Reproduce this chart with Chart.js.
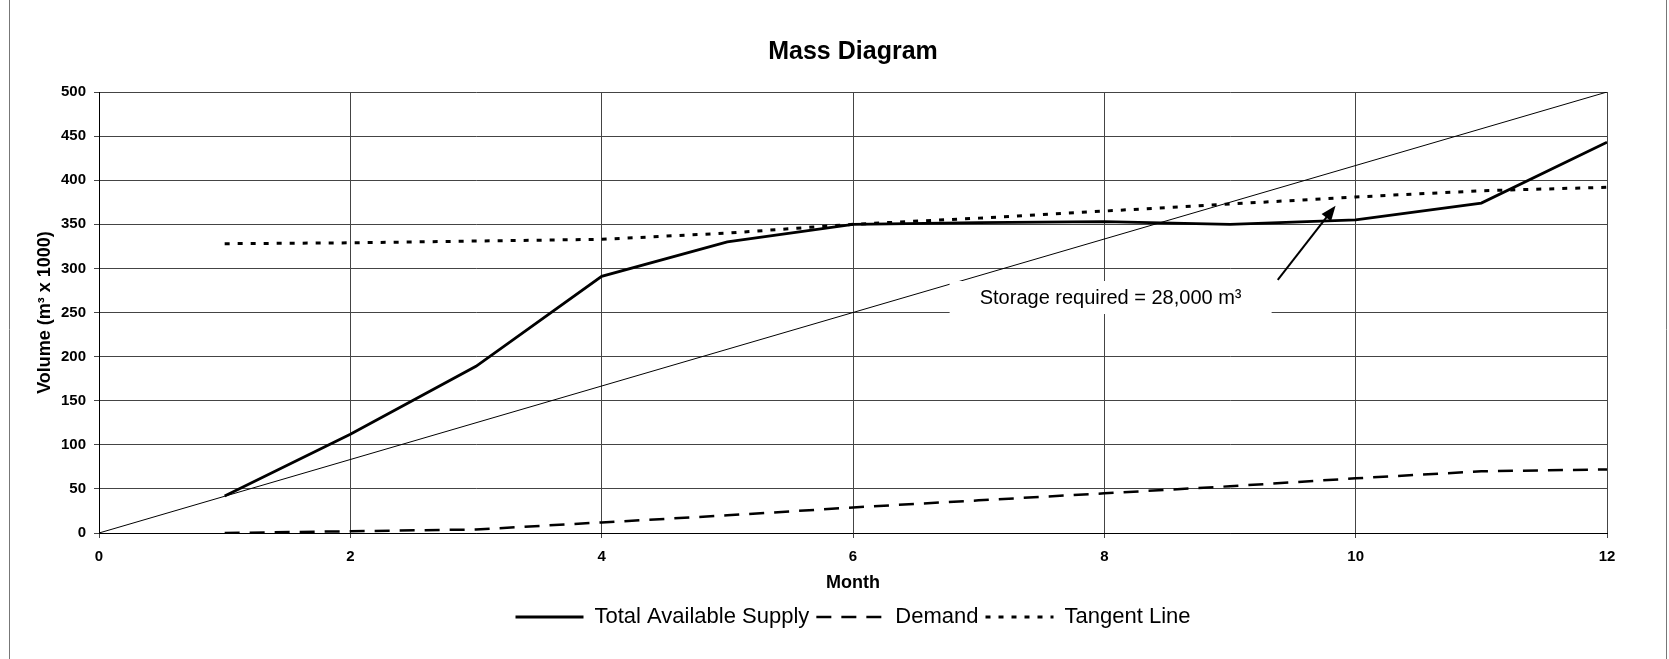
<!DOCTYPE html>
<html>
<head>
<meta charset="utf-8">
<title>Mass Diagram</title>
<script src="https://cdn.jsdelivr.net/npm/chart.js@4.4.1/dist/chart.umd.min.js"></script>
<style>
  html, body { margin: 0; padding: 0; background: #fff; }
  #contenedor { width: 1669px; height: 659px; position: relative; }
</style>
</head>
<body>
<div id="contenedor"><canvas id="mass-chart"></canvas></div>
<script>
// meses y volumenes acumulados (m3 x 1000)
const months = [1, 2, 3, 4, 5, 6, 7, 8, 9, 10, 11, 12];
const supply = [42, 112, 189, 291, 330, 350, 352, 353, 350, 355, 374, 443];
const demand = [0, 2, 4, 12, 20, 29, 37, 45, 53, 62, 70, 72];
const tangent = [328, 329, 331, 333, 340, 350, 357, 365, 373, 381, 388, 392];

// recta de referencia (sin leyenda)
const rateMonths = [0, 12];
const rateVolume = [0, 500];

const noteText = "Storage required = 28,000 m\u00B3";
const notePos = { x: 8.05, y: 267 };
const arrowFrom = { x: 9.38, y: 287 };
const arrowTo = { x: 9.84, y: 371 };

const fuente = '"Liberation Sans", Arial, Helvetica, sans-serif';
const colorGrid = '#444';

function puntos(xs, ys) {
    return xs.map((x, i) => ({ x: x, y: ys[i] }));
}

// fondo blanco y bordes del marco
const marcoPlugin = {
    id: 'marco',
    beforeDraw(chart) {
        const ctx = chart.ctx;
        ctx.save();
        ctx.fillStyle = '#fff';
        ctx.fillRect(0, 0, chart.width, chart.height);
        ctx.strokeStyle = '#777';
        ctx.lineWidth = 1;
        ctx.beginPath();
        ctx.moveTo(9.5, 0);
        ctx.lineTo(9.5, chart.height);
        ctx.moveTo(chart.width - 2.5, 0);
        ctx.lineTo(chart.width - 2.5, chart.height);
        ctx.stroke();
        ctx.restore();
    }
};

// cuadro de texto con flecha hacia la tangente
const notaPlugin = {
    id: 'notaAlmacen',
    afterDatasetsDraw(chart) {
        const { ctx, scales: { x, y } } = chart;
        const cx = x.getPixelForValue(notePos.x);
        const cy = y.getPixelForValue(notePos.y);
        const w = 322, h = 33;
        ctx.save();
        ctx.fillStyle = '#fff';
        ctx.fillRect(cx - w / 2, cy - h / 2, w, h);
        ctx.fillStyle = '#000';
        ctx.font = '20px ' + fuente;
        ctx.textAlign = 'center';
        ctx.textBaseline = 'middle';
        ctx.fillText(noteText, cx, cy + 1);

        const x1 = x.getPixelForValue(arrowFrom.x), y1 = y.getPixelForValue(arrowFrom.y);
        const x2 = x.getPixelForValue(arrowTo.x), y2 = y.getPixelForValue(arrowTo.y);
        const ang = Math.atan2(y2 - y1, x2 - x1);
        const largo = 15, ancho = 6;
        ctx.strokeStyle = '#000';
        ctx.lineWidth = 2;
        ctx.beginPath();
        ctx.moveTo(x1, y1);
        ctx.lineTo(x2 - Math.cos(ang) * largo * 0.8, y2 - Math.sin(ang) * largo * 0.8);
        ctx.stroke();
        ctx.beginPath();
        ctx.moveTo(x2, y2);
        ctx.lineTo(x2 - Math.cos(ang) * largo + Math.sin(ang) * ancho, y2 - Math.sin(ang) * largo - Math.cos(ang) * ancho);
        ctx.lineTo(x2 - Math.cos(ang) * largo - Math.sin(ang) * ancho, y2 - Math.sin(ang) * largo + Math.cos(ang) * ancho);
        ctx.closePath();
        ctx.fill();
        ctx.restore();
    }
};

const ctx = document.getElementById('mass-chart');

const graficoMasa = new Chart(ctx, {
    type: 'line',
    data: {
        datasets: [
            {
                label: 'Total Available Supply',
                data: puntos(months, supply),
                borderColor: '#000',
                backgroundColor: '#000',
                borderWidth: 2.8,
                pointRadius: 0,
                tension: 0
            },
            {
                label: 'Demand',
                data: puntos(months, demand),
                borderColor: '#000',
                backgroundColor: '#000',
                borderWidth: 2.5,
                borderDash: [15, 10],
                pointRadius: 0,
                tension: 0
            },
            {
                label: 'Tangent Line',
                data: puntos(months, tangent),
                borderColor: '#000',
                backgroundColor: '#000',
                borderWidth: 3,
                borderDash: [5, 8],
                pointRadius: 0,
                tension: 0
            },
            {
                label: 'rate',
                data: puntos(rateMonths, rateVolume),
                borderColor: '#000',
                borderWidth: 1,
                pointRadius: 0,
                tension: 0
            }
        ]
    },
    options: {
        responsive: true,
        maintainAspectRatio: false,
        animation: false,
        layout: {
            padding: { left: 10, right: 62, top: 0, bottom: 21 }
        },
        plugins: {
            title: {
                display: true,
                text: 'Mass Diagram',
                color: '#000',
                fullSize: false,
                font: { family: fuente, size: 25, weight: 'bold' },
                padding: { top: 37, bottom: 25 }
            },
            legend: {
                position: 'bottom',
                fullSize: false,
                labels: {
                    // la leyenda copia el trazo de cada serie
                    generateLabels: function (chart) {
                        const items = Chart.defaults.plugins.legend.labels.generateLabels(chart);
                        items.forEach(item => {
                            const ds = chart.data.datasets[item.datasetIndex];
                            item.lineDash = ds.borderDash || [];
                            item.lineWidth = ds.borderWidth;
                            item.strokeStyle = ds.borderColor;
                        });
                        return items;
                    },
                    filter: item => item.text !== 'rate',
                    color: '#000',
                    font: { family: fuente, size: 22 },
                    usePointStyle: true,
                    pointStyle: 'line',
                    pointStyleWidth: 68,
                    boxHeight: 22,
                    padding: 7
                }
            },
            tooltip: { enabled: false }
        },
        scales: {
            x: {
                type: 'linear',
                min: 0,
                max: 12,
                afterFit: function (scale) { scale.height = 66; },
                ticks: {
                    stepSize: 2,
                    color: '#000',
                    padding: 10,
                    maxRotation: 0,
                    font: { family: fuente, size: 15, weight: 'bold' }
                },
                grid: { color: colorGrid, lineWidth: 1, tickLength: 5 },
                border: { color: '#000', width: 1 },
                title: {
                    display: true,
                    text: 'Month',
                    color: '#000',
                    font: { family: fuente, size: 18, weight: 'bold' },
                    padding: { top: 0, bottom: 5 }
                }
            },
            y: {
                min: 0,
                max: 500,
                afterFit: function (scale) { scale.width = 89; },
                ticks: {
                    stepSize: 50,
                    color: '#000',
                    padding: 8,
                    font: { family: fuente, size: 15, weight: 'bold' }
                },
                grid: { color: colorGrid, lineWidth: 1, tickLength: 5 },
                border: { color: '#000', width: 1 },
                title: {
                    display: true,
                    text: 'Volume (m\u00B3 x 1000)',
                    color: '#000',
                    font: { family: fuente, size: 18, weight: 'bold' },
                    padding: { top: 24, bottom: 0 }
                }
            }
        }
    },
    plugins: [marcoPlugin, notaPlugin]
});
</script>
</body>
</html>
